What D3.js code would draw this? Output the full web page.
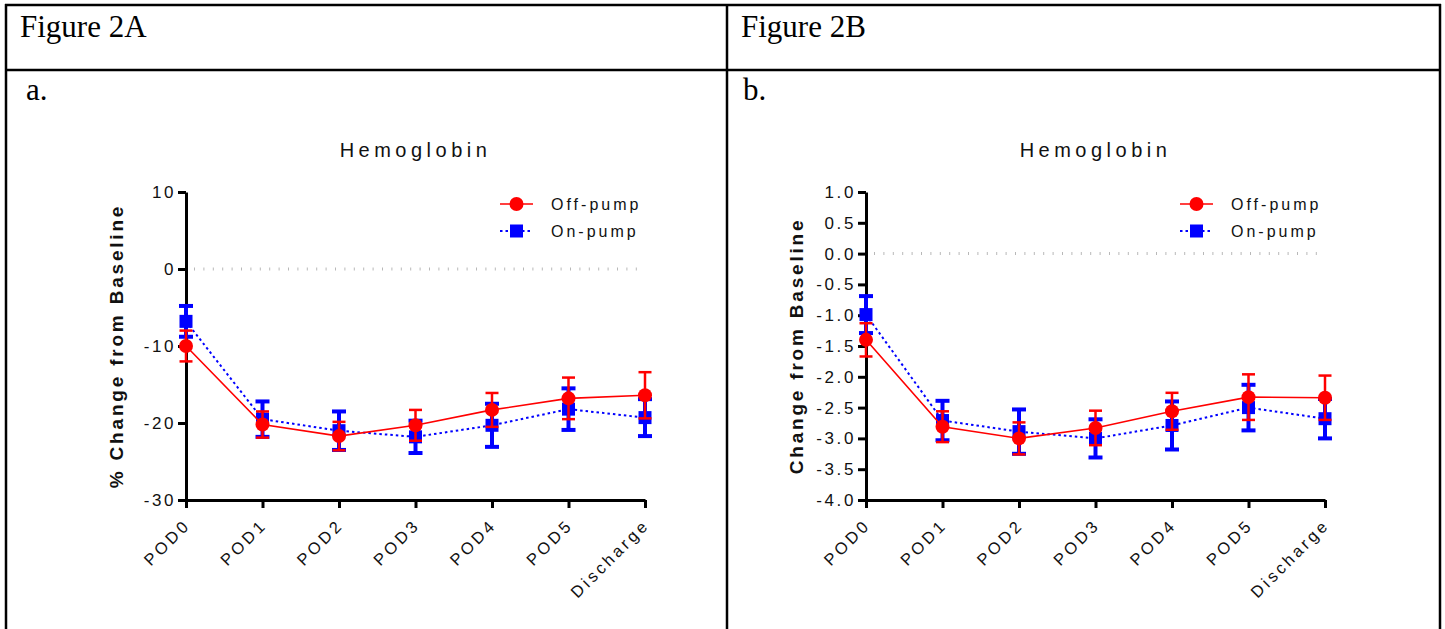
<!DOCTYPE html>
<meta charset="utf-8">
<script src="https://d3js.org/d3.v7.min.js"></script>
<style>
  body { margin: 0; background: #fff; }
  svg { display: block; }
</style>
<div id="my_dataviz"></div>
<script>

// ---- data ----
var categories = ["POD0", "POD1", "POD2", "POD3", "POD4", "POD5", "Discharge"];
var seriesNames = ["Off-pump", "On-pump"];

// panel a: % change from baseline
var pctOffMean = [-10.0, -20.2, -21.7, -20.3, -18.3, -16.8, -16.4];
var pctOffErr  = [2.0, 1.7, 1.85, 2.0, 2.2, 2.7, 3.0];
var pctOnMean  = [-6.8, -19.5, -21.0, -21.8, -20.3, -18.2, -19.3];
var pctOnErr   = [2.0, 2.3, 2.5, 2.1, 2.8, 2.7, 2.4];
var pctTicks   = [10, 0, -10, -20, -30];

// panel b: absolute change from baseline
var absOffMean = [-1.40, -2.81, -3.00, -2.83, -2.56, -2.33, -2.34];
var absOffErr  = [0.27, 0.25, 0.26, 0.28, 0.30, 0.37, 0.36];
var absOnMean  = [-0.99, -2.71, -2.89, -3.00, -2.79, -2.50, -2.68];
var absOnErr   = [0.30, 0.32, 0.36, 0.31, 0.39, 0.37, 0.32];
var absTicks   = [1.0, 0.5, 0.0, -0.5, -1.0, -1.5, -2.0, -2.5, -3.0, -3.5, -4.0];

var sans = "'Liberation Sans', Arial, sans-serif";
var serif = "'Liberation Serif', 'Times New Roman', serif";

var svg = d3.select("#my_dataviz")
    .append("svg")
    .attr("width", 1445)
    .attr("height", 629);

// ---- table frame ----
var frame = svg.append("g")
    .attr("stroke", "black")
    .attr("stroke-width", 2.5);
frame.append("line").attr("x1", 5).attr("x2", 1441).attr("y1", 5).attr("y2", 5);
frame.append("line").attr("x1", 5).attr("x2", 1441).attr("y1", 70).attr("y2", 70);
frame.append("line").attr("x1", 6).attr("x2", 6).attr("y1", 4).attr("y2", 629);
frame.append("line").attr("x1", 727).attr("x2", 727).attr("y1", 4).attr("y2", 629);
frame.append("line").attr("x1", 1440).attr("x2", 1440).attr("y1", 4).attr("y2", 629);

var heads = [
  {t: "Figure 2A", x: 20, y: 37},
  {t: "a.", x: 26, y: 100},
  {t: "Figure 2B", x: 741, y: 37},
  {t: "b.", x: 743, y: 100}
];
svg.selectAll(".head")
  .data(heads)
  .enter().append("text")
    .attr("x", function(d) { return d.x; })
    .attr("y", function(d) { return d.y; })
    .style("font-family", serif)
    .style("font-size", "31px")
    .text(function(d) { return d.t; });

// ---- one panel ----
var width = 459, height = 308;

function drawPanel(left, top, domain, ticks, fmt, ylabel, off, offErr, on, onErr) {
  var g = svg.append("g")
      .attr("transform", "translate(" + left + "," + top + ")");

  var x = d3.scalePoint().domain(categories).range([0, width]);
  var y = d3.scaleLinear().domain(domain).range([height, 0]);

  // dotted zero line
  g.append("line")
      .attr("x1", 8).attr("x2", width - 7)
      .attr("y1", y(0)).attr("y2", y(0))
      .attr("stroke", "#b8b8b8")
      .attr("stroke-width", 3)
      .attr("stroke-dasharray", "1,8.4");

  // y axis
  var ya = g.append("g")
      .call(d3.axisLeft(y).tickValues(ticks).tickFormat(fmt).tickSize(8).tickSizeOuter(0).tickPadding(5));
  ya.selectAll("text")
      .attr("dx", 3)
      .style("font-family", sans)
      .style("font-size", "17px")
      .style("letter-spacing", "2.6px")
      .attr("fill", "#111");

  // x axis
  var xa = g.append("g")
      .attr("transform", "translate(0," + height + ")")
      .call(d3.axisBottom(x).tickSize(8).tickSizeOuter(0));
  xa.selectAll("text")
      .attr("x", 0).attr("y", 0).attr("dy", 0)
      .attr("transform", "translate(5,26) rotate(-45)")
      .style("text-anchor", "end")
      .style("font-family", sans)
      .style("font-size", "16.5px")
      .style("letter-spacing", "3.2px")
      .attr("fill", "#111");

  [ya, xa].forEach(function(a) {
    a.select(".domain").attr("stroke-width", 3).attr("stroke", "black");
    a.selectAll(".tick line").attr("stroke-width", 3).attr("stroke", "black");
  });

  // titles
  g.append("text")
      .attr("x", width / 2).attr("y", -35)
      .attr("text-anchor", "middle")
      .style("font-family", sans)
      .style("font-size", "20px")
      .style("letter-spacing", "4.5px")
      .attr("fill", "#111")
      .text("Hemoglobin");

  g.append("text")
      .attr("transform", "translate(-63," + (height / 2) + ") rotate(-90)")
      .attr("text-anchor", "middle")
      .style("font-family", sans)
      .style("font-size", "19px")
      .style("font-weight", "bold")
      .style("letter-spacing", "2.8px")
      .attr("fill", "#111")
      .text(ylabel);

  var series = [
    {name: seriesNames[1], mean: on, err: onErr, color: "#0000ff", dash: "2.5,3", lw: 2, ew: 4, cap: 7, shape: "square"},
    {name: seriesNames[0], mean: off, err: offErr, color: "#ff0000", dash: null, lw: 1.6, ew: 2.5, cap: 6.5, shape: "circle"}
  ];

  series.forEach(function(s) {
    var pts = categories.map(function(c, i) { return {c: c, m: s.mean[i], e: s.err[i]}; });
    var sg = g.append("g");

    sg.append("path")
        .datum(pts)
        .attr("fill", "none")
        .attr("stroke", s.color)
        .attr("stroke-width", s.lw)
        .attr("stroke-dasharray", s.dash)
        .attr("d", d3.line().x(function(d) { return x(d.c); }).y(function(d) { return y(d.m); }));

    var eb = sg.selectAll(".eb").data(pts).enter().append("g")
        .attr("stroke", s.color)
        .attr("stroke-width", s.ew);
    eb.append("line")
        .attr("x1", function(d) { return x(d.c); }).attr("x2", function(d) { return x(d.c); })
        .attr("y1", function(d) { return y(d.m + d.e); }).attr("y2", function(d) { return y(d.m - d.e); });
    eb.append("line")
        .attr("x1", function(d) { return x(d.c) - s.cap; }).attr("x2", function(d) { return x(d.c) + s.cap; })
        .attr("y1", function(d) { return y(d.m + d.e); }).attr("y2", function(d) { return y(d.m + d.e); });
    eb.append("line")
        .attr("x1", function(d) { return x(d.c) - s.cap; }).attr("x2", function(d) { return x(d.c) + s.cap; })
        .attr("y1", function(d) { return y(d.m - d.e); }).attr("y2", function(d) { return y(d.m - d.e); });

    if (s.shape === "circle") {
      sg.selectAll(".mk").data(pts).enter().append("circle")
          .attr("cx", function(d) { return x(d.c); })
          .attr("cy", function(d) { return y(d.m); })
          .attr("r", 7)
          .attr("fill", s.color);
    } else {
      sg.selectAll(".mk").data(pts).enter().append("rect")
          .attr("x", function(d) { return x(d.c) - 6.5; })
          .attr("y", function(d) { return y(d.m) - 6.5; })
          .attr("width", 13).attr("height", 13)
          .attr("fill", s.color);
    }
  });

  // legend
  var leg = g.append("g").attr("transform", "translate(314,12)");
  var legItems = [series[1], series[0]];
  legItems.forEach(function(s, i) {
    var r = leg.append("g").attr("transform", "translate(0," + (i * 27) + ")");
    r.append("line")
        .attr("x1", 0).attr("x2", 33)
        .attr("stroke", s.color)
        .attr("stroke-width", s.lw)
        .attr("stroke-dasharray", s.dash);
    if (s.shape === "circle") {
      r.append("circle").attr("cx", 16.5).attr("r", 7).attr("fill", s.color);
    } else {
      r.append("rect").attr("x", 10).attr("y", -6.5).attr("width", 13).attr("height", 13).attr("fill", s.color);
    }
    r.append("text")
        .attr("x", 51).attr("dy", "0.36em")
        .style("font-family", sans)
        .style("font-size", "16px")
        .style("letter-spacing", "3px")
        .attr("fill", "#111")
        .text(s.name);
  });
}

drawPanel(186, 192, [-30, 10], pctTicks, function(d) { return String(d); },
          "% Change from Baseline", pctOffMean, pctOffErr, pctOnMean, pctOnErr);
drawPanel(866, 192, [-4, 1], absTicks, function(d) { return d.toFixed(1); },
          "Change from Baseline", absOffMean, absOffErr, absOnMean, absOnErr);

</script>
